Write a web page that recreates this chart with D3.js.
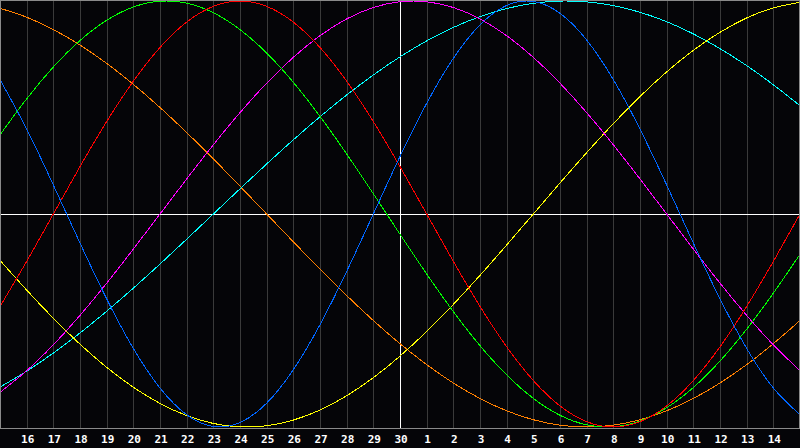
<!DOCTYPE html>
<html><head><meta charset="utf-8">
<script src="https://cdn.jsdelivr.net/npm/d3@7"></script>
<style>
html,body{margin:0;padding:0;background:#050508;overflow:hidden}
svg{display:block}
</style></head>
<body>
<svg id="c" width="800" height="448"></svg>
<script>
// Day labels at grid positions 1..29 (today = "30" at the centre)
const dayLabels = ["16","17","18","19","20","21","22","23","24","25","26","27","28","29","30",
                   "1","2","3","4","5","6","7","8","9","10","11","12","13","14"];
// Sampled cycle values at day index 0..30
const physical = [0.6311,0.3984,0.1362,-0.1362,-0.3984,-0.6311,-0.8170,-0.9423,-0.9977,-0.9791,-0.8879,-0.7308,-0.5196,-0.2698,0,0.2698,0.5196,0.7308,0.8879,0.9791,0.9977,0.9423,0.8170,0.6311,0.3984,0.1362,-0.1362,-0.3984,-0.6311,-0.8170,-0.9423];
const emotional = [-0.4339,-0.2225,0,0.2225,0.4339,0.6235,0.7818,0.9010,0.9749,1,0.9749,0.9010,0.7818,0.6235,0.4339,0.2225,0,-0.2225,-0.4339,-0.6235,-0.7818,-0.9010,-0.9749,-1,-0.9749,-0.9010,-0.7818,-0.6235,-0.4339,-0.2225,0];
const intellectual = [0.3717,0.5406,0.6901,0.8146,0.9096,0.9718,0.9989,0.9898,0.9450,0.8660,0.7557,0.6182,0.4582,0.2817,0.0951,-0.0951,-0.2817,-0.4582,-0.6182,-0.7557,-0.8660,-0.9450,-0.9898,-0.9989,-0.9718,-0.9096,-0.8146,-0.6901,-0.5406,-0.3717,-0.1893];
const intuitive = [-0.8372,-0.7357,-0.6142,-0.4759,-0.3247,-0.1646,0,0.1646,0.3247,0.4759,0.6142,0.7357,0.8372,0.9158,0.9694,0.9966,0.9966,0.9694,0.9158,0.8372,0.7357,0.6142,0.4759,0.3247,0.1646,0,-0.1646,-0.3247,-0.4759,-0.6142,-0.7357];
const aesthetic = [-0.2174,-0.3572,-0.4894,-0.6112,-0.7199,-0.8134,-0.8893,-0.9464,-0.9834,-0.9993,-0.9940,-0.9675,-0.9203,-0.8533,-0.7684,-0.6671,-0.5517,-0.4244,-0.2881,-0.1456,0,0.1456,0.2881,0.4244,0.5517,0.6671,0.7684,0.8533,0.9203,0.9675,0.9940];
const awareness = [0.9659,0.9239,0.8660,0.7934,0.7071,0.6088,0.5,0.3827,0.2588,0.1305,0,-0.1305,-0.2588,-0.3827,-0.5,-0.6088,-0.7071,-0.7934,-0.8660,-0.9239,-0.9659,-0.9914,-1,-0.9914,-0.9659,-0.9239,-0.8660,-0.7934,-0.7071,-0.6088,-0.5];
const spiritual = [-0.8126,-0.7378,-0.6528,-0.5586,-0.4566,-0.3482,-0.2349,-0.1183,0,0.1183,0.2349,0.3482,0.4566,0.5586,0.6528,0.7378,0.8126,0.8759,0.9267,0.9646,0.9890,0.9996,0.9960,0.9786,0.9473,0.9028,0.8456,0.7765,0.6968,0.6068,0.5084];

const seriesNames = ["awareness","spiritual","aesthetic","intuitive","intellectual","emotional","physical"];
const seriesValues = [awareness, spiritual, aesthetic, intuitive, intellectual, emotional, physical];
const seriesColors = ["#ff8000","#00ffff","#ffff00","#ff00ff","#00ff00","#ff0000","#0066ff"];

const svg = d3.select("#c");
const W = 800, plotBottom = 428;
const x = d3.scaleLinear().domain([0, 30]).range([0, W]);
const y = d3.scaleLinear().domain([-1, 1]).range([427, 1]);

// grid
svg.append("g").selectAll("line").data(d3.range(1, 30)).join("line")
  .attr("x1", d => Math.round(x(d)) + 0.5).attr("x2", d => Math.round(x(d)) + 0.5)
  .attr("y1", 0).attr("y2", plotBottom)
  .attr("stroke", "#3a3a3a").attr("shape-rendering", "crispEdges");

// centre lines
svg.append("line").attr("x1", Math.round(x(15)) + 0.5).attr("x2", Math.round(x(15)) + 0.5)
  .attr("y1", 0).attr("y2", plotBottom).attr("stroke", "#ffffff").attr("shape-rendering", "crispEdges");
svg.append("line").attr("x1", 0).attr("x2", W).attr("y1", y(0) + 0.5).attr("y2", y(0) + 0.5)
  .attr("stroke", "#ffffff").attr("shape-rendering", "crispEdges");

// curves
const line = d3.line().x((d, i) => x(i)).y(d => y(d)).curve(d3.curveNatural);
svg.append("g").selectAll("path").data(seriesValues).join("path")
  .attr("d", d => line(d)).attr("fill", "none")
  .attr("stroke", (d, i) => seriesColors[i]).attr("stroke-width", 1)
  .attr("shape-rendering", "crispEdges");

// border
svg.append("rect").attr("x", 0.5).attr("y", 0.5).attr("width", W - 1).attr("height", plotBottom)
  .attr("fill", "none").attr("stroke", "#8a8a8a").attr("shape-rendering", "crispEdges");

// labels
svg.append("g").selectAll("text").data(dayLabels).join("text")
  .attr("x", (d, i) => x(i + 1) + 1).attr("y", 443)
  .attr("text-anchor", "middle")
  .attr("font-family", "DejaVu Sans Mono").attr("font-weight", "bold").attr("font-size", 11)
  .attr("fill", "#ffffff").text(d => d);
</script>
</body></html>
